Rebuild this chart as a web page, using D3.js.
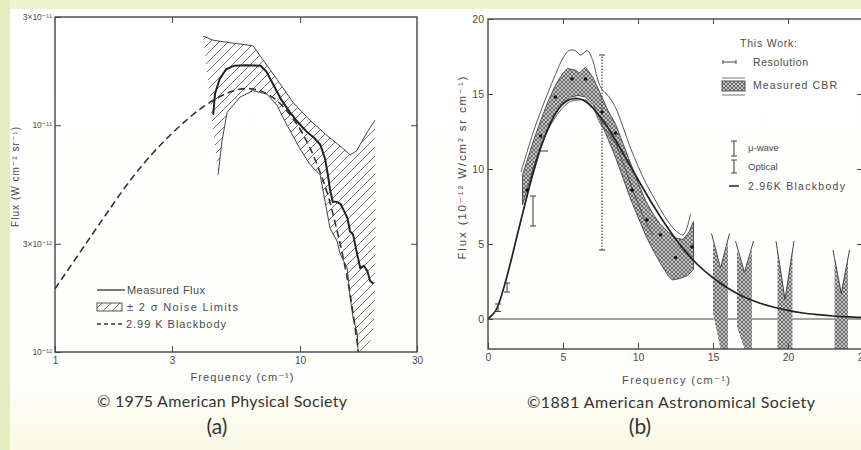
<!DOCTYPE html>
<html lang="en">
<head>
<meta charset="UTF-8">
<title>Cosmic background radiation spectra</title>
<script src="https://d3js.org/d3.v7.min.js"></script>
<style>
  body { margin: 0; background: #eef3d0; }
  svg { display: block; }
  text { font-family: "Liberation Sans", "DejaVu Sans", sans-serif; fill: #4a4a4a; }
  .cap { font-family: Lato, "Open Sans", sans-serif; fill: #333; }
  .axis path.domain { display: none; }
  .axis line { stroke: #444; stroke-width: 1; }
</style>
</head>
<body>
<svg id="chart" width="861" height="450"></svg>
<script>
// ---------- panel (a): log-log, flux in 1e-12 W cm^-2 sr^-1 ----------
const aXTicks = [1, 3, 10, 30];
const aXTickLabels = ["1", "3", "10", "30"];
const aYTicks = [1, 3, 10, 30];
const aYTickLabels = ["10⁻¹²", "3×10⁻¹²", "10⁻¹¹", "3×10⁻¹¹"];

const aBlackbody = [[1,1.9],[1.25,2.7],[1.5,3.6],[2,5.6],[2.5,7.5],[3,9.2],[3.5,10.7],[4,12.0],[4.5,13.0],
  [5,13.8],[5.5,14.3],[6,14.5],[6.5,14.4],[7,14.1],[8,12.9],[9,11.3],[10,9.6],[11,7.9],[12,6.3],[13,4.9],
  [14,3.6],[15,2.6],[16,1.8],[17,1.15],[17.3,1.0]];
const aMeasured = [[4.42,11.1],[4.5,13.8],[4.7,16.0],[5.0,17.7],[5.4,18.3],[6.0,18.4],[6.9,18.3],[7.3,17.2],
  [7.8,15.0],[8.4,12.9],[9.1,11.4],[9.8,10.3],[10.7,9.3],[11.4,8.8],[12.1,8.2],[12.65,7.1],[13.0,6.0],
  [13.25,5.2],[13.6,4.6],[14.0,4.6],[14.6,4.5],[15.1,4.2],[15.6,3.9],[16.0,3.4],[16.45,3.3],[17.1,2.7],
  [17.6,2.35],[18.2,2.4],[18.8,2.28],[19.3,2.06],[19.9,2.0]];
const aNoiseUpper = [[4.02,24.7],[4.42,23.7],[5.33,23.0],[6.43,22.4],[7.06,19.4],[8.06,15.9],[9.36,12.6],
  [10.99,10.5],[12.89,9.0],[14.99,7.9],[16.0,7.4],[17.0,7.7],[17.57,8.2],[18.77,9.3],[20.2,10.5]];
const aNoiseRightEdge = [[20.4,4.6],[20.2,1.7],[19.9,1.25],[18.8,1.0]];
const aNoiseLower = [[4.63,6.05],[4.8,8.5],[5.04,11.4],[5.69,13.3],[6.43,14.2],[7.33,13.7],[8.06,12.2],
  [8.85,10.0],[10.0,7.86],[10.99,6.69],[12.07,6.05],[12.65,4.6],[13.25,3.51],[14.16,3.08],[14.56,2.71],
  [15.56,2.35],[16.0,1.74],[16.45,1.42],[17.1,1.21],[17.25,1.0]];

// ---------- panel (b): linear, flux in 1e-12 W/cm^2 sr cm^-1 ----------
const bXTicks = [0, 5, 10, 15, 20, 25];
const bYTicks = [0, 5, 10, 15, 20];

const bBlackbody = [[0,0],[0.5,0.54],[1,1.9],[1.5,3.75],[2,5.8],[2.5,7.8],[3,9.75],[3.5,11.4],[4,12.7],
  [4.5,13.7],[5,14.35],[5.5,14.65],[6,14.7],[6.5,14.5],[7,14.05],[7.5,13.45],[8,12.75],[9,11.05],[10,9.3],
  [11,7.6],[12,6.05],[13,4.7],[14,3.6],[15,2.75],[16,2.05],[17,1.5],[18,1.1],[19,0.8],[20,0.57],[21,0.4],
  [22,0.29],[23,0.2],[24,0.14],[25,0.1]];
const bBandUpper = [[2.3,9.6],[3,11.8],[3.5,13.2],[4,14.5],[4.5,15.6],[5,16.4],[5.3,16.7],[5.8,16.6],
  [6.1,16.4],[6.5,16.8],[7,16.1],[7.5,15.0],[8,13.9],[8.5,13.0],[9,11.7],[9.5,10.4],[10,9.1],[10.5,7.9],
  [11,7.0],[11.5,6.3],[12,5.8],[12.5,5.4],[13,5.3],[13.4,5.8],[13.7,6.5]];
const bBandLower = [[2.3,7.6],[3,10.0],[3.5,11.4],[4,12.7],[4.5,13.7],[5,14.4],[5.5,14.8],[6,14.9],
  [6.5,14.8],[7,14.3],[7.5,13.2],[8,12.0],[8.5,10.8],[9,9.4],[9.5,8.0],[10,6.8],[10.5,5.6],[11,4.6],
  [11.5,3.7],[12,2.9],[12.3,2.6],[12.8,2.7],[13.3,2.9],[13.7,3.3]];
const bEnvUpper = [[2.2,9.8],[3,12.4],[3.5,13.8],[4,15.1],[4.5,16.3],[5,17.4],[5.4,17.9],[5.8,17.9],
  [6.2,17.6],[6.6,17.9],[7,17.2],[7.3,16.0],[7.6,15.3],[8,14.9],[8.5,14.1],[9,12.8],[9.5,11.4],[10,10.2],
  [10.5,9.1],[11,8.2],[11.5,7.3],[12,6.5],[12.5,5.9],[13,5.6],[13.3,6.2],[13.5,7.0]];
const bEnvLower = [[2.4,7.4],[3,9.6],[4,12.6],[5,14.1],[5.5,14.5],[6,14.6],[6.5,14.6],[7,14.1],[7.5,13.0],
  [8,12.4],[8.5,11.7],[9,10.4],[9.5,9.0],[10,7.7],[10.5,6.5],[11,5.6]];
const bPoints = [[2.6,8.6],[3.5,12.2],[4.5,14.8],[5.6,16.0],[6.5,16.0],[7.6,13.8],[8.5,12.4],[9.6,8.6],
  [10.6,6.6],[11.5,5.6],[12.5,4.1],[13.6,4.8]];
const bMuwave = [[0.67,0.5,1.0],[1.27,1.8,2.4],[3.0,6.2,8.2]];   // x, low, high
const bOptical = [[7.6,4.6,17.6]];
const bResolution = [[3.5,4.0,11.2]];                              // x0, x1, y
// upper limits at high frequency: x0, x1, arm top, notch bottom, cut height, cut foot
const bLimits = [[15.0,16.0,5.1,3.4,0.4,15.5],[16.6,17.6,4.6,3.1,-0.5,17.1],
  [19.3,20.3,4.6,1.3,-2,19.3],[23.1,24.0,4.0,1.7,-2,23.1]];

const svg = d3.select("#chart");
const defs = svg.append("defs");

defs.append("pattern").attr("id", "diag").attr("patternUnits", "userSpaceOnUse")
  .attr("width", 9).attr("height", 9)
  .append("path").attr("d", "M-1,10 L10,-1 M-2,2 L2,-2 M7,11 L11,7")
  .attr("stroke", "#666").attr("stroke-width", 0.9);

const cross = defs.append("pattern").attr("id", "cross").attr("patternUnits", "userSpaceOnUse")
  .attr("width", 4).attr("height", 4);
cross.append("rect").attr("width", 4).attr("height", 4).attr("fill", "#c4c4c4");
cross.append("path").attr("d", "M0,0 L4,4 M4,0 L0,4")
  .attr("stroke", "#555").attr("stroke-width", 0.8);

const grad = defs.append("linearGradient").attr("id", "paper").attr("x1", 0).attr("y1", 0).attr("x2", 0).attr("y2", 1);
grad.append("stop").attr("offset", "0%").attr("stop-color", "#ffffff");
grad.append("stop").attr("offset", "85%").attr("stop-color", "#fefefb");
grad.append("stop").attr("offset", "100%").attr("stop-color", "#f9f9e4");

svg.append("rect").attr("width", 861).attr("height", 450).attr("fill", "#eef3d0");
svg.append("rect").attr("width", 10).attr("height", 450).attr("fill", "#e4edc2");
svg.append("rect").attr("x", 10).attr("y", 9).attr("width", 851).attr("height", 441).attr("fill", "url(#paper)");

// ================= panel (a) =================
const xA = d3.scaleLog().domain([1, 30]).range([55, 417]);
const yA = d3.scaleLog().domain([1, 30]).range([352, 17]);
const gA = svg.append("g");

const lineA = d3.line().x(d => xA(d[0])).y(d => yA(d[1]));

// hatched noise region
gA.append("path")
  .attr("d", lineA(aNoiseUpper.concat(aNoiseRightEdge, aNoiseLower.slice().reverse())) + "Z")
  .attr("fill", "url(#diag)");
gA.append("path").attr("d", lineA(aNoiseUpper)).attr("fill", "none").attr("stroke", "#444").attr("stroke-width", 1);
gA.append("path").attr("d", lineA(aNoiseLower)).attr("fill", "none").attr("stroke", "#444").attr("stroke-width", 1);

gA.append("path").attr("d", lineA.curve(d3.curveCatmullRom)(aBlackbody))
  .attr("fill", "none").attr("stroke", "#333").attr("stroke-width", 1.6).attr("stroke-dasharray", "7,4");
lineA.curve(d3.curveLinear);
gA.append("path").attr("d", lineA(aMeasured))
  .attr("fill", "none").attr("stroke", "#222").attr("stroke-width", 2);

gA.append("rect").attr("x", 55).attr("y", 17).attr("width", 362).attr("height", 335)
  .attr("fill", "none").attr("stroke", "#444").attr("stroke-width", 1.4);

gA.append("g").attr("class", "axis").attr("transform", "translate(0,352)")
  .call(d3.axisBottom(xA).tickValues(aXTicks).tickFormat((d, i) => aXTickLabels[i]).tickSize(-6).tickPadding(5))
  .call(g => g.selectAll("text").attr("font-size", 10).attr("fill", "#555"));
gA.append("g").attr("class", "axis").attr("transform", "translate(0,17)")
  .call(d3.axisTop(xA).tickValues([3, 10]).tickFormat("").tickSize(-6));
gA.append("g").attr("class", "axis").attr("transform", "translate(55,0)")
  .call(d3.axisLeft(yA).tickValues(aYTicks).tickFormat((d, i) => aYTickLabels[i]).tickSize(-6).tickPadding(3))
  .call(g => g.selectAll("text").attr("font-size", 8.5).attr("fill", "#555"));
gA.append("g").attr("class", "axis").attr("transform", "translate(417,0)")
  .call(d3.axisRight(yA).tickValues([3, 10]).tickFormat("").tickSize(-6));

gA.append("text").attr("x", 242).attr("y", 381).attr("text-anchor", "middle")
  .attr("font-size", 11).attr("textLength", 103).text("Frequency (cm⁻¹)");
gA.append("text").attr("transform", "translate(19,177) rotate(-90)").attr("text-anchor", "middle")
  .attr("font-size", 10).attr("textLength", 100).text("Flux (W cm⁻² sr⁻¹)");

// legend (a)
const legA = gA.append("g").attr("font-size", 11);
legA.append("line").attr("x1", 97).attr("x2", 125).attr("y1", 290).attr("y2", 290).attr("stroke", "#333").attr("stroke-width", 1.3);
legA.append("text").attr("x", 127).attr("y", 294).attr("textLength", 78).text("Measured Flux");
legA.append("rect").attr("x", 97).attr("y", 303).attr("width", 25).attr("height", 8)
  .attr("fill", "url(#diag)").attr("stroke", "#444").attr("stroke-width", 0.9);
legA.append("text").attr("x", 127).attr("y", 311).attr("textLength", 111).text("± 2 σ Noise Limits");
legA.append("line").attr("x1", 97).attr("x2", 125).attr("y1", 324).attr("y2", 324).attr("stroke", "#333")
  .attr("stroke-width", 1.3).attr("stroke-dasharray", "4,3");
legA.append("text").attr("x", 126).attr("y", 328).attr("textLength", 100).text("2.99 K Blackbody");

svg.append("text").attr("class", "cap").attr("x", 222).attr("y", 407).attr("text-anchor", "middle")
  .attr("font-size", 16).attr("textLength", 250).text("© 1975 American Physical Society");
svg.append("text").attr("class", "cap").attr("x", 217).attr("y", 434).attr("text-anchor", "middle")
  .attr("font-size", 21).text("(a)");

// ================= panel (b) =================
const xB = d3.scaleLinear().domain([0, 25]).range([488, 863]);
const yB = d3.scaleLinear().domain([-2, 20]).range([349, 19]);
const gB = svg.append("g");
const lineB = d3.line().x(d => xB(d[0])).y(d => yB(d[1]));

// zero line
gB.append("line").attr("x1", xB(0)).attr("x2", xB(25)).attr("y1", yB(0)).attr("y2", yB(0))
  .attr("stroke", "#444").attr("stroke-width", 1.2);

// upper-limit columns
bLimits.forEach(([x0, x1, top, notch, cut, foot]) => {
  const xm = (x0 + x1) / 2;
  const poly = [[x0, top], [xm, notch], [x1, top], [x1, -2], [foot, -2], [x0, cut]];
  gB.append("path").attr("d", lineB(poly) + "Z").attr("fill", "url(#cross)");
  gB.append("path").attr("d", lineB([[x0 - 0.1, top + 0.6], [xm, notch], [x1 + 0.1, top + 0.6]]))
    .attr("fill", "none").attr("stroke", "#444").attr("stroke-width", 1);
});

// measured band
gB.append("path").attr("d", lineB(bBandUpper.concat(bBandLower.slice().reverse())) + "Z")
  .attr("fill", "url(#cross)").attr("stroke", "#444").attr("stroke-width", 0.9);
gB.append("path").attr("d", lineB.curve(d3.curveCatmullRom)(bEnvUpper))
  .attr("fill", "none").attr("stroke", "#444").attr("stroke-width", 0.9);
gB.append("path").attr("d", lineB(bEnvLower))
  .attr("fill", "none").attr("stroke", "#444").attr("stroke-width", 0.9);
gB.append("path").attr("d", lineB(bBlackbody))
  .attr("fill", "none").attr("stroke", "#222").attr("stroke-width", 1.7);
lineB.curve(d3.curveLinear);

gB.selectAll("circle.pt").data(bPoints).join("circle").attr("class", "pt")
  .attr("cx", d => xB(d[0])).attr("cy", d => yB(d[1])).attr("r", 1.8).attr("fill", "#111");

// error bars
const bars = gB.append("g").attr("stroke", "#444").attr("stroke-width", 1.1);
bMuwave.forEach(([x, lo, hi]) => {
  bars.append("line").attr("x1", xB(x)).attr("x2", xB(x)).attr("y1", yB(lo)).attr("y2", yB(hi));
  [lo, hi].forEach(v => bars.append("line").attr("x1", xB(x) - 3).attr("x2", xB(x) + 3).attr("y1", yB(v)).attr("y2", yB(v)));
});
bOptical.forEach(([x, lo, hi]) => {
  bars.append("line").attr("x1", xB(x)).attr("x2", xB(x)).attr("y1", yB(lo)).attr("y2", yB(hi))
    .attr("stroke-dasharray", "1.5,1.5");
  [lo, hi].forEach(v => bars.append("line").attr("x1", xB(x) - 3).attr("x2", xB(x) + 3).attr("y1", yB(v)).attr("y2", yB(v)));
});
bResolution.forEach(([x0, x1, y]) => {
  bars.append("line").attr("x1", xB(x0)).attr("x2", xB(x1)).attr("y1", yB(y)).attr("y2", yB(y));
});

// frame and axes
gB.append("rect").attr("x", 488).attr("y", 19).attr("width", 375).attr("height", 330)
  .attr("fill", "none").attr("stroke", "#444").attr("stroke-width", 1.4);
gB.append("g").attr("class", "axis").attr("transform", "translate(0,349)")
  .call(d3.axisBottom(xB).tickValues(bXTicks).tickSize(-6).tickPadding(5))
  .call(g => g.selectAll("text").attr("font-size", 10.5).attr("fill", "#555"));
gB.append("g").attr("class", "axis").attr("transform", "translate(0,19)")
  .call(d3.axisTop(xB).tickValues([5, 10, 15, 20]).tickFormat("").tickSize(-5));
gB.append("g").attr("class", "axis").attr("transform", "translate(488,0)")
  .call(d3.axisLeft(yB).tickValues(bYTicks).tickSize(-5).tickPadding(4))
  .call(g => g.selectAll("text").attr("font-size", 10.5).attr("fill", "#555"));
gB.append("g").attr("class", "axis").attr("transform", "translate(863,0)")
  .call(d3.axisRight(yB).tickValues([5, 10, 15]).tickFormat("").tickSize(-6));

gB.append("text").attr("x", 676).attr("y", 384).attr("text-anchor", "middle")
  .attr("font-size", 11).attr("textLength", 108).text("Frequency (cm⁻¹)");
gB.append("text").attr("transform", "translate(466,168) rotate(-90)").attr("text-anchor", "middle")
  .attr("font-size", 11.5).attr("textLength", 183).text("Flux (10⁻¹² W/cm² sr cm⁻¹)");

// legend (b)
const legB = gB.append("g").attr("font-size", 10.5);
legB.append("text").attr("x", 740).attr("y", 47).attr("textLength", 57).text("This Work:");
legB.append("line").attr("x1", 723).attr("x2", 736).attr("y1", 62).attr("y2", 62).attr("stroke", "#444");
[723, 736].forEach(x => legB.append("line").attr("x1", x).attr("x2", x).attr("y1", 60).attr("y2", 64).attr("stroke", "#444"));
legB.append("text").attr("x", 753).attr("y", 66).attr("textLength", 55).text("Resolution");
legB.append("rect").attr("x", 722).attr("y", 81).attr("width", 23).attr("height", 10)
  .attr("fill", "url(#cross)").attr("stroke", "#444").attr("stroke-width", 0.9);
legB.append("line").attr("x1", 722).attr("x2", 745).attr("y1", 78).attr("y2", 78).attr("stroke", "#555").attr("stroke-width", 0.8);
legB.append("line").attr("x1", 722).attr("x2", 745).attr("y1", 95).attr("y2", 95).attr("stroke", "#555").attr("stroke-width", 0.8);
legB.append("text").attr("x", 753).attr("y", 89).attr("textLength", 84).text("Measured CBR");
[[141, 156], [160, 173]].forEach(([a, b]) => {
  legB.append("line").attr("x1", 734).attr("x2", 734).attr("y1", a).attr("y2", b).attr("stroke", "#444").attr("stroke-width", 1.1);
  [a, b].forEach(v => legB.append("line").attr("x1", 731).attr("x2", 737).attr("y1", v).attr("y2", v).attr("stroke", "#444"));
});
legB.append("text").attr("x", 748).attr("y", 151).attr("font-size", 9.5).text("μ-wave");
legB.append("text").attr("x", 748).attr("y", 170).attr("font-size", 9.5).text("Optical");
legB.append("line").attr("x1", 729).attr("x2", 739).attr("y1", 186).attr("y2", 186).attr("stroke", "#333").attr("stroke-width", 1.6);
legB.append("text").attr("x", 748).attr("y", 190).attr("textLength", 97).text("2.96K Blackbody");

svg.append("text").attr("class", "cap").attr("x", 671).attr("y", 408).attr("text-anchor", "middle")
  .attr("font-size", 16).attr("textLength", 288).text("©1881 American Astronomical Society");
svg.append("text").attr("class", "cap").attr("x", 640).attr("y", 434).attr("text-anchor", "middle")
  .attr("font-size", 21).text("(b)");
</script>
</body>
</html>
